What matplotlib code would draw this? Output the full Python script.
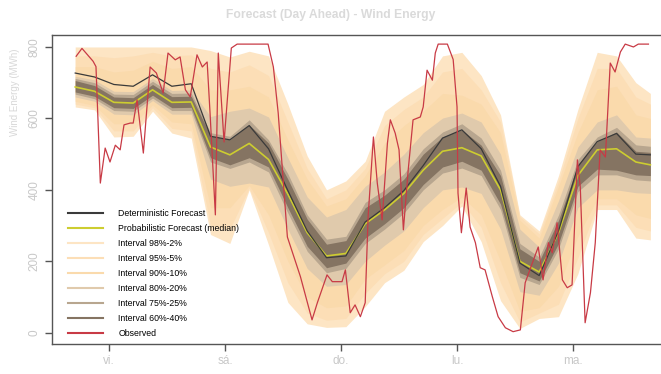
import matplotlib
matplotlib.use("Agg")
import matplotlib.pyplot as plt
from matplotlib.lines import Line2D

#
# Forecast grid (hours from start, every 4 h)
#
hours = [0, 4, 8, 12, 16, 20, 24, 28, 32, 36, 40, 44, 48, 52, 56, 60,
         64, 68, 72, 76, 80, 84, 88, 92, 96, 100, 104, 108, 112, 116, 119]

median = [688, 676, 645, 643, 680, 645, 646, 520, 498, 530, 485, 388, 280, 215, 222, 305,
          344, 390, 455, 508, 518, 495, 400, 200, 170, 280, 440, 512, 515, 478, 470]
deterministic = [727, 716, 695, 690, 722, 690, 697, 550, 540, 580, 515, 398, 285, 210, 215, 310,
                 350, 398, 468, 545, 568, 515, 410, 195, 160, 285, 465, 535, 558, 500, 498]

q98 = [800, 800, 800, 800, 800, 800, 800, 790, 772, 788, 775, 640, 495, 400, 425, 480,
       620, 660, 695, 775, 785, 720, 610, 330, 285, 440, 625, 785, 775, 700, 670]
q95 = [775, 775, 770, 775, 785, 775, 778, 740, 730, 750, 720, 590, 460, 375, 400, 460,
       580, 625, 660, 730, 740, 680, 590, 325, 277, 425, 600, 740, 740, 660, 640]
q90 = [745, 745, 730, 735, 760, 740, 745, 680, 680, 690, 660, 540, 430, 355, 375, 440,
       530, 580, 620, 670, 665, 640, 560, 315, 265, 410, 560, 680, 690, 610, 600]
q80 = [718, 708, 676, 675, 712, 678, 680, 605, 620, 629, 604, 490, 380, 324, 345, 410,
       450, 500, 560, 601, 615, 590, 500, 290, 240, 370, 520, 590, 610, 548, 545]
q75 = [712, 700, 668, 667, 704, 670, 671, 560, 550, 596, 540, 445, 330, 262, 270, 365,
       400, 445, 515, 562, 585, 545, 455, 250, 212, 330, 485, 548, 575, 526, 522]
q60 = [706, 692, 660, 658, 695, 661, 662, 552, 540, 582, 531, 430, 318, 248, 258, 350,
       385, 430, 500, 548, 568, 525, 440, 235, 200, 315, 470, 535, 562, 508, 505]
q40 = [674, 662, 630, 628, 665, 630, 631, 490, 470, 490, 464, 350, 242, 182, 195, 265,
       305, 350, 415, 464, 480, 455, 360, 168, 145, 250, 410, 458, 455, 442, 440]
q25 = [668, 655, 622, 620, 657, 622, 622, 478, 460, 478, 450, 335, 228, 168, 180, 250,
       290, 335, 400, 447, 461, 440, 345, 155, 135, 235, 395, 442, 442, 428, 425]
q20 = [660, 648, 612, 610, 650, 612, 612, 430, 410, 419, 408, 290, 180, 130, 135, 200,
       245, 285, 350, 400, 408, 390, 290, 115, 105, 195, 350, 400, 400, 392, 390]
q10 = [648, 636, 585, 585, 638, 590, 585, 350, 350, 412, 330, 200, 100, 70, 75, 150,
       190, 230, 300, 345, 380, 330, 200, 60, 70, 130, 270, 375, 375, 330, 320]
q05 = [640, 630, 565, 565, 630, 572, 565, 300, 290, 405, 280, 140, 55, 35, 40, 110,
       165, 200, 275, 320, 365, 295, 140, 30, 55, 80, 210, 358, 358, 295, 285]
q02 = [632, 624, 548, 550, 620, 559, 545, 275, 250, 400, 246, 85, 25, 15, 17, 73,
       140, 175, 255, 300, 355, 255, 90, 12, 40, 45, 165, 345, 345, 265, 260]

#
# Observed wind energy (read at its turning points)
#
obs_hours = [0.2, 1.4, 3.7, 4.3, 5.2, 6.2, 7.2, 8.3, 9.3, 10.1, 11.4, 12.0, 12.8, 14.1,
             15.5, 16.8, 18.2, 19.2, 20.7, 21.7, 22.8, 23.8, 25.2, 26.3, 27.3, 27.9,
             29.0, 29.6, 30.8, 32.3, 33.5, 39.9, 41.0, 42.0, 43.9, 46.6, 49.0, 50.1,
             52.1, 53.2, 55.2, 55.9, 56.9, 57.9, 59.0, 60.0, 60.6, 61.7, 62.5, 63.5,
             64.6, 65.2, 66.2, 67.0, 67.9, 68.9, 69.9, 71.4, 72.0, 72.8, 73.9, 74.5,
             75.1, 77.0, 78.2, 79.0, 79.2, 79.9, 80.9, 81.7, 82.8, 83.8, 84.8, 86.3,
             87.5, 89.0, 90.6, 92.1, 93.1, 94.6, 95.8, 96.8, 97.9, 98.7, 99.7, 100.8,
             101.8, 102.8, 103.9, 104.5, 105.5, 106.6, 107.6, 108.6, 109.7, 110.7,
             111.7, 112.8, 113.8, 115.5, 116.5, 118.6]
observed = [774, 796, 760, 745, 419, 517, 478, 525, 512, 582, 587, 587, 652, 503,
            744, 727, 671, 783, 764, 772, 680, 660, 778, 744, 758, 615,
            330, 783, 534, 797, 808, 808, 744, 615, 268, 157, 36, 84,
            162, 143, 143, 176, 56, 78, 45, 84, 324, 548, 419, 316,
            531, 596, 559, 512, 288, 456, 596, 604, 632, 735, 707, 783,
            808, 808, 765, 632, 391, 280, 405, 296, 252, 182, 176, 101,
            45, 14, 3, 8, 140, 196, 240, 148, 252, 224, 308, 148,
            126, 134, 484, 408, 28, 112, 252, 512, 492, 755,
            730, 786, 808, 800, 808, 808]

day_ticks = [7, 31, 55, 79, 103]
day_labels = ["vi.", "sá.", "do.", "lu.", "ma."]

labels = ["Deterministic Forecast", "Probabilistic Forecast (median)",
          "Interval 98%-2%", "Interval 95%-5%", "Interval 90%-10%",
          "Interval 80%-20%", "Interval 75%-25%", "Interval 60%-40%", "Observed"]

c98, c95, c90 = "#FDE5C4", "#FCDEB6", "#FADAAC"
c80, c75, c60 = "#E0CAAC", "#B8A68F", "#857462"
c_det, c_med, c_obs = "#3A3A3A", "#CDCD30", "#C83A45"

plt.rcParams["font.family"] = ["Liberation Sans", "DejaVu Sans"]

fig = plt.figure(figsize=(6.61, 3.74), dpi=100)
ax = fig.add_axes([52 / 661, 30 / 374, 609 / 661, 309 / 374])

# bands, outer to inner
for lo, hi, col in [(q02, q98, c98), (q05, q95, c95), (q10, q90, c90),
                    (q20, q80, c80), (q25, q75, c75), (q40, q60, c60)]:
    ax.fill_between(hours, lo, hi, color=col, lw=0)

ax.plot(hours, median, color=c_med, lw=1.2)
ax.plot(hours, deterministic, color=c_det, lw=0.9)
ax.plot(obs_hours, observed, color=c_obs, lw=0.9)

ax.set_xlim(-4.8, 121.2)
ax.set_ylim(-31.5, 833.5)

ax.set_yticks([0, 200, 400, 600, 800])
ax.set_xticks(day_ticks)
ax.set_xticklabels(day_labels)
ax.tick_params(axis="both", colors="#555555", labelcolor="#C8C8C8", labelsize=8.5,
               length=5, width=1, direction="out")
ax.tick_params(axis="x", pad=3)
for lab in ax.get_yticklabels():
    lab.set_rotation(90)
    lab.set_va("center")

ax.spines["right"].set_visible(False)
for s in ["left", "top", "bottom"]:
    ax.spines[s].set_color("#555555")
    ax.spines[s].set_linewidth(1)

fig.text(331 / 661, 1 - 15 / 374, "Forecast (Day Ahead) - Wind Energy", ha="center",
         va="center", fontsize=8.7, fontweight="bold", color="#DADADA")
fig.text(15 / 661, 1 - 92 / 374, "Wind Energy (MWh)", rotation=90, ha="center",
         va="center", fontsize=7, color="#D8D8D8")

handles = [Line2D([], [], color=c) for c in
           [c_det, c_med, c98, c95, c90, c80, c75, c60, c_obs]]
ax.legend(handles, labels, loc="upper left", bbox_to_anchor=(0.026, 0.437),
          frameon=False, fontsize=6.3, handlelength=4.0, handletextpad=1.75,
          labelspacing=0.68, borderpad=0, borderaxespad=0)

fig.savefig("out.png", dpi=100)
